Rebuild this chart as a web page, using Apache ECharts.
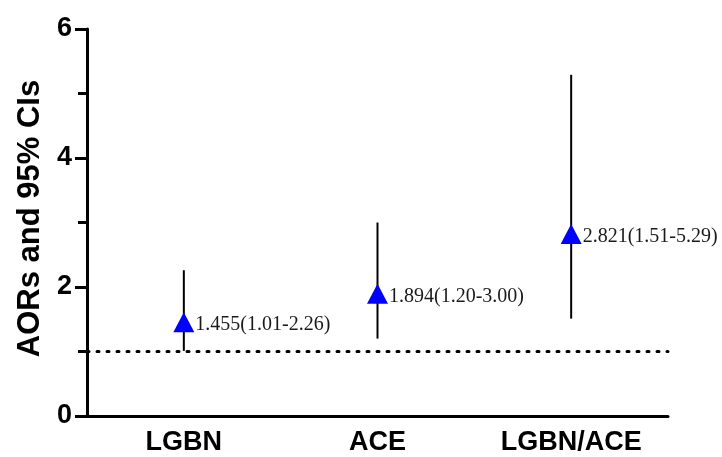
<!DOCTYPE html>
<html>
<head>
<meta charset="utf-8">
<script src="https://cdn.jsdelivr.net/npm/echarts@6/dist/echarts.min.js"></script>
<style>
html,body{margin:0;padding:0;background:#fff;}
#chart{width:722px;height:457px;}
</style>
</head>
<body>
<div id="chart"></div>
<script>
var categories = ['LGBN', 'ACE', 'LGBN/ACE'];
var aorValues = [1.455, 1.894, 2.821];
var ciLower = [1.01, 1.20, 1.51];
var ciUpper = [2.26, 3.00, 5.29];
var yTicks = [0, 2, 4, 6];
var referenceLine = 1;

var chart = echarts.init(document.getElementById('chart'), null, {renderer: 'canvas'});

var errorData = categories.map(function (c, i) { return [i, ciLower[i], ciUpper[i]]; });
var pointData = categories.map(function (c, i) { return [i, aorValues[i]]; });

var option = {
  backgroundColor: '#ffffff',
  animation: false,
  grid: {left: 87, right: 54, top: 29, bottom: 41, containLabel: false},
  xAxis: {
    type: 'category',
    data: categories,
    boundaryGap: true,
    axisLine: {lineStyle: {color: '#000', width: 3}},
    axisTick: {alignWithLabel: true, length: 8, lineStyle: {color: '#000', width: 3}},
    axisLabel: {color: '#000', fontFamily: 'Liberation Sans, Arial, sans-serif', fontWeight: 'bold', fontSize: 27, margin: 13},
    splitLine: {show: false}
  },
  yAxis: {
    type: 'value',
    min: yTicks[0],
    max: yTicks[yTicks.length - 1],
    interval: yTicks[1] - yTicks[0],
    name: 'AORs and 95% CIs',
    nameLocation: 'middle',
    nameGap: 41,
    nameTextStyle: {color: '#000', fontFamily: 'Liberation Sans, Arial, sans-serif', fontWeight: 'bold', fontSize: 31, padding: [0, 0, 0, 8]},
    axisLine: {show: true, lineStyle: {color: '#000', width: 3}},
    axisTick: {show: true, length: 12, lineStyle: {color: '#000', width: 3}},
    minorTick: {show: true, splitNumber: 2, length: 9, lineStyle: {color: '#000', width: 3}},
    axisLabel: {color: '#000', fontFamily: 'Liberation Sans, Arial, sans-serif', fontWeight: 'bold', fontSize: 27, margin: 15},
    splitLine: {show: false}
  },
  series: [
    {
      type: 'custom',
      data: errorData,
      z: 2,
      renderItem: function (params, api) {
        var x = api.value(0);
        var p1 = api.coord([x, api.value(1)]);
        var p2 = api.coord([x, api.value(2)]);
        return {
          type: 'line',
          shape: {x1: p1[0], y1: p1[1], x2: p2[0], y2: p2[1]},
          style: {stroke: '#000', lineWidth: 2}
        };
      },
      markLine: {
        silent: true,
        symbol: ['none', 'none'],
        label: {show: false},
        lineStyle: {color: '#000', width: 3, type: [2, 8], cap: 'round'},
        data: [{yAxis: referenceLine}]
      }
    },
    {
      type: 'scatter',
      data: pointData,
      z: 3,
      symbol: 'triangle',
      symbolSize: [21, 20],
      itemStyle: {color: '#0000ff', opacity: 1},
      label: {
        show: true,
        position: 'right',
        distance: 1,
        offset: [0, 3],
        color: '#1a1a1a',
        fontFamily: 'Liberation Serif, Times New Roman, serif',
        fontSize: 20,
        formatter: function (p) {
          var i = p.dataIndex;
          return aorValues[i].toFixed(3) + '(' + ciLower[i].toFixed(2) + '-' + ciUpper[i].toFixed(2) + ')';
        }
      }
    }
  ]
};
chart.setOption(option);
</script>
</body>
</html>
